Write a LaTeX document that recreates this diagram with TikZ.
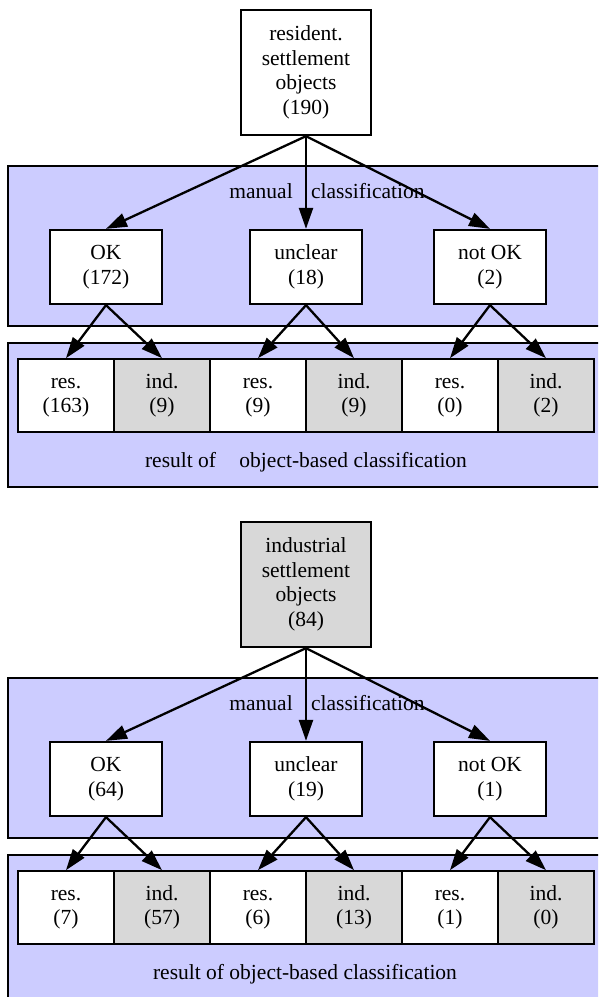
\documentclass[tikz,border=0pt]{standalone}
\usepackage{fontspec}
\setmainfont{Liberation Serif}
\usetikzlibrary{arrows.meta}
\definecolor{clusterblue}{HTML}{CCCCFF}
\definecolor{stipple}{HTML}{D8D8D8}
\newcommand\twol[2]{\strut #1\\\strut #2}
\begin{document}
\begin{tikzpicture}[x=1pt,y=-1pt,
  every node/.style={font=\fontsize{21.5}{24.5}\selectfont},
  box/.style={draw=black, line width=2.3pt, fill=white, align=center, inner sep=0pt,
    minimum width=112pt, minimum height=74pt},
  topbox/.style={box, minimum width=130pt, minimum height=125pt},
  indtop/.style={topbox, fill=stipple},
  cell/.style={box, minimum width=96pt, minimum height=72.4pt},
  indcell/.style={cell, fill=stipple},
  cluster/.style={draw=black, line width=1.8pt, fill=clusterblue},
  lbl/.style={inner sep=0pt},
  arr/.style={line width=2.3pt, -{Triangle[length=21pt,width=14pt]}}]
\useasboundingbox (0,0) rectangle (598,997);
\clip (0,0) rectangle (598,997);
\fill[white] (0,0) rectangle (598,997);

% ---------- resident part ----------
\draw[cluster] (8,166) rectangle (601,326);
\draw[cluster] (8,343) rectangle (601,487);
\node[lbl] (man1) at (327,191) {manual\hspace{13pt} classification};
\node[lbl] (obj1) at (306,462) {result of\hspace{18pt} object-based classification};

\node[topbox] (res) at (306,72.5) {\strut resident.\\\strut settlement\\\strut objects\\\strut (190)};
\node[box] (ok1) at (106,267) {\twol{OK}{(172)}};
\node[box] (un1) at (306,267) {\twol{unclear}{(18)}};
\node[box] (no1) at (490,267) {\twol{not OK}{(2)}};

\node[cell]    (a1) at (66,395.5)  {\twol{res.}{(163)}};
\node[indcell] (b1) at (162,395.5) {\twol{ind.}{(9)}};
\node[cell]    (c1) at (258,395.5) {\twol{res.}{(9)}};
\node[indcell] (d1) at (354,395.5) {\twol{ind.}{(9)}};
\node[cell]    (e1) at (450,395.5) {\twol{res.}{(0)}};
\node[indcell] (f1) at (546,395.5) {\twol{ind.}{(2)}};

\draw[arr] (res.south) -- (ok1.north);
\draw[arr] (res.south) -- (un1.north);
\draw[arr] (res.south) -- (no1.north);
\draw[arr] (ok1.south) -- (a1.north);
\draw[arr] (ok1.south) -- (b1.north);
\draw[arr] (un1.south) -- (c1.north);
\draw[arr] (un1.south) -- (d1.north);
\draw[arr] (no1.south) -- (e1.north);
\draw[arr] (no1.south) -- (f1.north);

% ---------- industrial part ----------
\draw[cluster] (8,678) rectangle (601,838);
\draw[cluster] (8,855) rectangle (601,1010);
\node[lbl] (man2) at (327,703) {manual\hspace{13pt} classification};
\node[lbl] (obj2) at (305,974) {result of object-based classification};

\node[indtop] (ind) at (306,584.5) {\strut industrial\\\strut settlement\\\strut objects\\\strut (84)};
\node[box] (ok2) at (106,779) {\twol{OK}{(64)}};
\node[box] (un2) at (306,779) {\twol{unclear}{(19)}};
\node[box] (no2) at (490,779) {\twol{not OK}{(1)}};

\node[cell]    (a2) at (66,907.5)  {\twol{res.}{(7)}};
\node[indcell] (b2) at (162,907.5) {\twol{ind.}{(57)}};
\node[cell]    (c2) at (258,907.5) {\twol{res.}{(6)}};
\node[indcell] (d2) at (354,907.5) {\twol{ind.}{(13)}};
\node[cell]    (e2) at (450,907.5) {\twol{res.}{(1)}};
\node[indcell] (f2) at (546,907.5) {\twol{ind.}{(0)}};

\draw[arr] (ind.south) -- (ok2.north);
\draw[arr] (ind.south) -- (un2.north);
\draw[arr] (ind.south) -- (no2.north);
\draw[arr] (ok2.south) -- (a2.north);
\draw[arr] (ok2.south) -- (b2.north);
\draw[arr] (un2.south) -- (c2.north);
\draw[arr] (un2.south) -- (d2.north);
\draw[arr] (no2.south) -- (e2.north);
\draw[arr] (no2.south) -- (f2.north);
\end{tikzpicture}
\end{document}
